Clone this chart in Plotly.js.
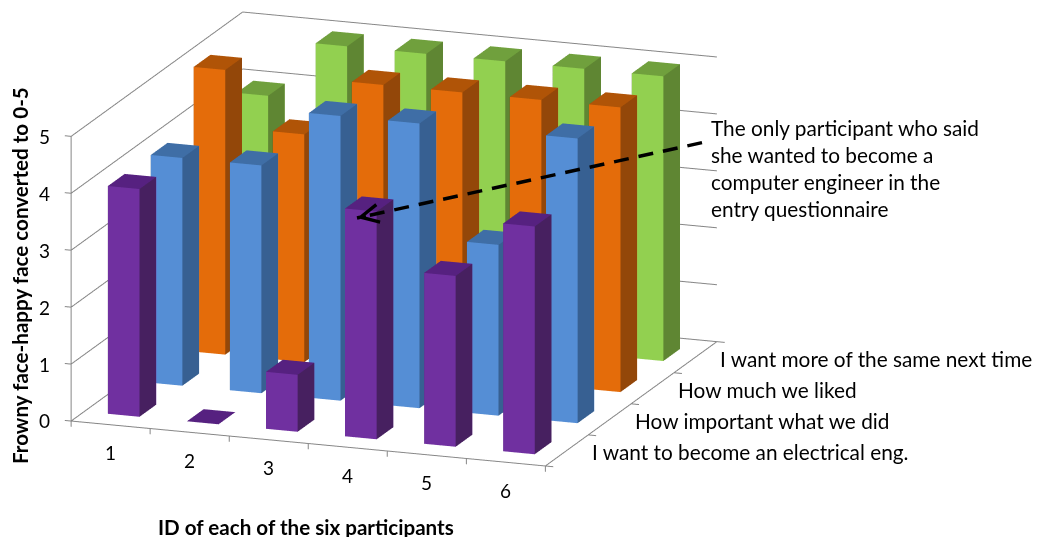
<!DOCTYPE html>
<html><head><meta charset="utf-8">
<script src="https://cdn.plot.ly/plotly-3.0.1.min.js"></script>
<style>html,body{margin:0;padding:0;background:#fff}#chart{width:1039px;height:537px}</style>
</head><body><div id="chart"></div>
<script>
const participants = [1, 2, 3, 4, 5, 6];
const seriesNames = ["I want to become an electrical eng.", "How important what we did", "How much we liked", "I want more of the same next time"];
const electricalEng = [4, 0, 1, 4, 3, 4];
const importantDid  = [4, 4, 5, 5, 3, 5];
const likedAmount   = [5, 4, 5, 5, 5, 5];
const moreOfSame    = [4, 5, 5, 5, 5, 5];
const zTicks = [0, 1, 2, 3, 4, 5];
const seriesValues = [electricalEng, importantDid, likedAmount, moreOfSame];
const faceColors = [
  {front:"#7030A0", top:"#562180", side:"#472060"},
  {front:"#558ED5", top:"#3F6EA6", side:"#376092"},
  {front:"#E46C0A", top:"#B05407", side:"#934709"},
  {front:"#92D050", top:"#70A03D", side:"#5F8633"}
];
const barW = 0.40, barD = 0.39, gray = "#868686";
const FONT = "Lato, Carlito, Calibri, sans-serif";

const traces = [];
seriesValues.forEach((vals, s) => {
  const X=[],Y=[],Z=[],I=[],J=[],K=[],FC=[];
  const c = faceColors[s];
  vals.forEach((v, idx) => {
    const cx = participants[idx], cy = s + 0.5, b = X.length;
    const x0=cx-barW/2,x1=cx+barW/2,y0=cy-barD/2,y1=cy+barD/2;
    [[x0,y0,0],[x1,y0,0],[x1,y1,0],[x0,y1,0],[x0,y0,v],[x1,y0,v],[x1,y1,v],[x0,y1,v]].forEach(p=>{X.push(p[0]);Y.push(p[1]);Z.push(p[2]);});
    const quad=(a,bb,cc,d,col)=>{I.push(b+a,b+a);J.push(b+bb,b+cc);K.push(b+cc,b+d);FC.push(col,col);};
    quad(0,1,5,4,c.front);
    quad(1,2,6,5,c.side);
    quad(4,5,6,7,c.top);
    quad(3,2,6,7,c.front);
    quad(0,3,7,4,c.side);
  });
  traces.push({type:"mesh3d",name:seriesNames[s],x:X,y:Y,z:Z,i:I,j:J,k:K,facecolor:FC,flatshading:true,
    lighting:{ambient:1,diffuse:0,specular:0,roughness:1,fresnel:0},hoverinfo:"skip",showscale:false});
});

// axis frame, wall grid and tick marks
const lx=[],ly=[],lz=[];
const seg=(a,b)=>{lx.push(a[0],b[0],null);ly.push(a[1],b[1],null);lz.push(a[2],b[2],null);};
seg([0.5,0,0],[6.5,0,0]); seg([6.5,0,0],[6.5,4,0]);
seg([0.5,0,0],[0.5,0,5]);
zTicks.forEach(z=>{seg([0.5,0,z],[0.5,4,z]);seg([0.5,4,z],[6.5,4,z]);seg([0.5,0,z],[0.42,0,z]);});
[0.5,1.5,2.5,3.5,4.5,5.5,6.5].forEach(x=>seg([x,0,0],[x,0,-0.1]));
[0,1,2,3,4].forEach(y=>seg([6.5,y,0],[6.6,y,0]));
traces.push({type:"scatter3d",mode:"lines",x:lx,y:ly,z:lz,line:{color:gray,width:2},hoverinfo:"skip",showlegend:false,connectgaps:false});

const annots3d=[];
participants.forEach(p=>annots3d.push({x:p,y:0,z:0,text:String(p),showarrow:false,xshift:0,yshift:-28,font:{family:FONT,size:19,color:"#000"}}));
zTicks.forEach(z=>annots3d.push({x:0.5,y:0,z:z,text:String(z),showarrow:false,xanchor:"right",xshift:-19,yshift:0,font:{family:FONT,size:19,color:"#000"}}));
seriesNames.forEach((n,i)=>annots3d.push({x:6.5,y:i+0.5,z:0,text:n,showarrow:false,xanchor:"left",xshift:23,yshift:-1,font:{family:FONT,size:20.8,color:"#000"}}));

const axisBase={showticklabels:false,ticks:"",showgrid:false,zeroline:false,showline:false,showbackground:false,showspikes:false,title:{text:""}};
const dir=[0.328,-0.907,0.262], L=3, ZOOM=2.11;
const layout={width:1039,height:537,margin:{l:0,r:0,t:0,b:0},paper_bgcolor:"#fff",showlegend:false,
  scene:{domain:{x:[0,0.7584],y:[0.11,1]},dragmode:false,
    aspectmode:"manual",aspectratio:{x:ZOOM*6.4/6,y:ZOOM*4.2/4,z:ZOOM*0.585*5.3/5},
    camera:{projection:{type:"orthographic"},up:{x:0,y:0,z:1},center:{x:0,y:0,z:0},eye:{x:dir[0]*L,y:dir[1]*L,z:dir[2]*L}},
    xaxis:Object.assign({},axisBase,{range:[0.3,6.7]}),
    yaxis:Object.assign({},axisBase,{range:[-0.1,4.1]}),
    zaxis:Object.assign({},axisBase,{range:[-0.15,5.15]}),
    annotations:annots3d},
  annotations:[
    {xref:"paper",yref:"paper",x:709/1039,y:1-113/537,xanchor:"left",yanchor:"top",align:"left",showarrow:false,
     text:"The only participant who said<br>she wanted to become a<br>computer engineer in the<br>entry questionnaire",font:{family:FONT,size:20.8,color:"#000"}},
    {xref:"paper",yref:"paper",x:357/1039,y:1-218/537,ax:348,ay:-76,text:" ",showarrow:true,arrowhead:5,arrowsize:1,arrowwidth:3.5,arrowcolor:"#000"},
    {xref:"paper",yref:"paper",x:306/1039,y:1-527/537,xanchor:"center",yanchor:"middle",text:"<b>ID of each of the six participants</b>",showarrow:false,font:{family:FONT,size:20.6,color:"#000"}},
    {xref:"paper",yref:"paper",x:20/1039,y:1-276/537,xanchor:"center",yanchor:"middle",text:"<b>Frowny face-happy face converted to 0-5</b>",textangle:-90,showarrow:false,font:{family:FONT,size:20.6,color:"#000"}}
  ]};
Plotly.newPlot("chart",traces,layout,{displayModeBar:false}).then(()=>{
  const p=document.querySelector(".annotation-arrow-g path");
  if(p)p.style.strokeDasharray="15,10";
});
</script></body></html>
